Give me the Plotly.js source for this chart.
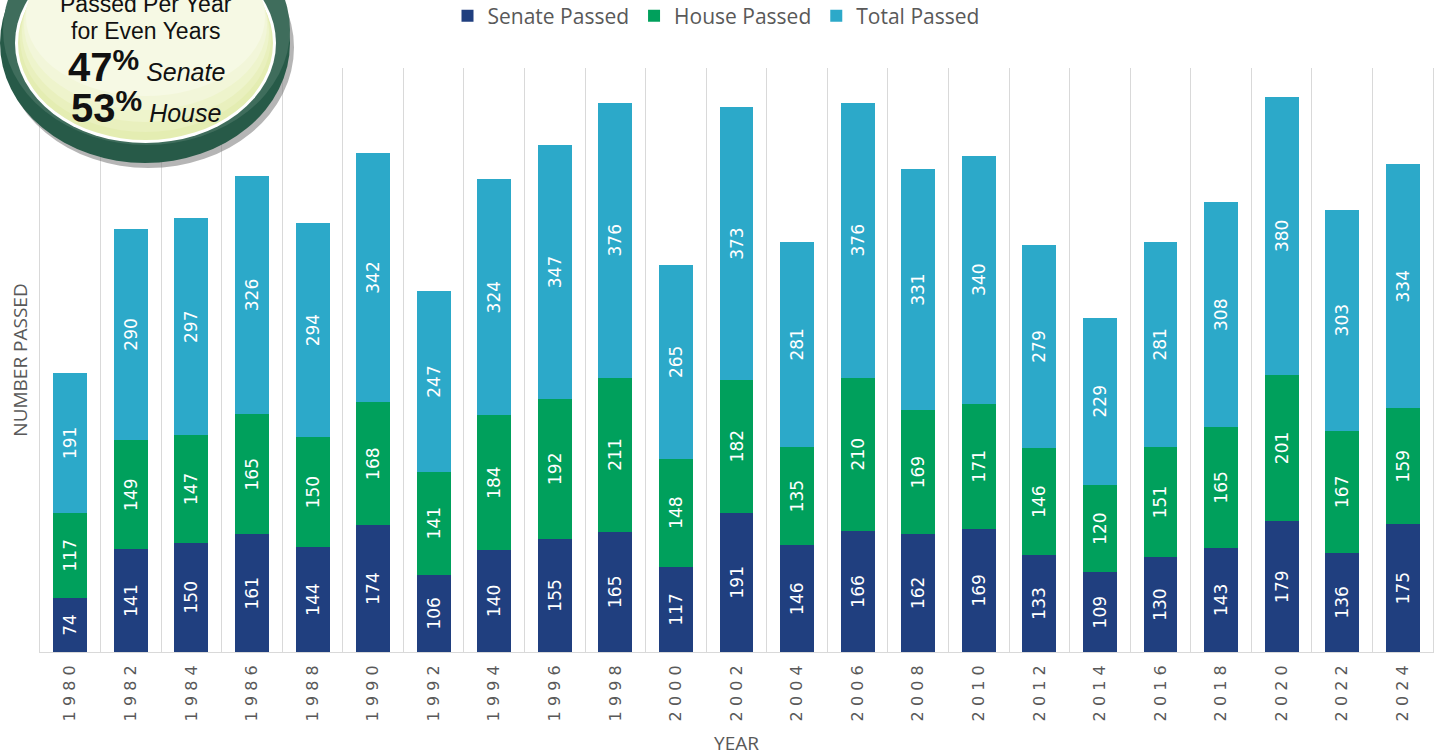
<!DOCTYPE html>
<html>
<head>
<meta charset="utf-8">
<script src="https://cdn.plot.ly/plotly-3.0.1.min.js"></script>
<style>
  html, body { margin: 0; padding: 0; background: #ffffff; }
  #chart { width: 1440px; height: 756px; }
</style>
</head>
<body>
<div id="chart"></div>
<script>
// ---- Data ----
var years = ["1980","1982","1984","1986","1988","1990","1992","1994","1996","1998","2000","2002",
             "2004","2006","2008","2010","2012","2014","2016","2018","2020","2022","2024"];
var senatePassed = [74,141,150,161,144,174,106,140,155,165,117,191,146,166,162,169,133,109,130,143,179,136,175];
var housePassed  = [117,149,147,165,150,168,141,184,192,211,148,182,135,210,169,171,146,120,151,165,201,167,159];
var totalPassed  = [191,290,297,326,294,342,247,324,347,376,265,373,281,376,331,340,279,229,281,308,380,303,334];
var seriesNames = ["Senate Passed", "House Passed", "Total Passed"];
var badgeLines = ["Passed Per Year", "for Even Years"];
var badgeShares = [{pct: "47", label: "Senate"}, {pct: "53", label: "House"}];

// ---- Style ----
var colors = ["#203f7f", "#00a05c", "#2ca9c9"];
var grey = "#595959";
var gridGrey = "#d9d9d9";
var W = 1440, H = 756;
var M = {l: 40, r: 7, t: 68, b: 104, autoexpand: false};
var plotW = W - M.l - M.r, plotH = H - M.t - M.b;
function xp(px) { return (px - M.l) / plotW; }
function yp(py) { return (H - M.b - py) / plotH; }

function barTrace(vals, i) {
  return {
    type: "bar",
    name: seriesNames[i],
    x: years,
    y: vals,
    marker: {color: colors[i], line: {width: 0}},
    text: vals.map(String),
    textposition: "inside",
    textangle: -90,
    insidetextanchor: "middle",
    insidetextfont: {family: "DejaVu Sans", size: 17, color: "#ffffff"},
    hoverinfo: "x+y+name"
  };
}

var data = [barTrace(senatePassed, 0), barTrace(housePassed, 1), barTrace(totalPassed, 2)];

// Badge shapes (decoration)
function ell(x0, x1, top, bottom, fill) {
  return {type: "circle", xref: "paper", yref: "paper",
          x0: xp(x0), x1: xp(x1), y0: yp(bottom), y1: yp(top),
          fillcolor: fill, line: {width: 0}, layer: "above"};
}
var shapes = [
  ell(3, 294, -73, 168, "rgba(120,120,120,0.55)"),
  ell(0, 290, -77, 163, "#275a48"),
  ell(3, 290, -85, 145, "#3f6d5c"),
  ell(15, 276, -57, 143, "#ffffff"),
  ell(18, 273, -54, 140, "#e4edb2"),
  ell(20, 271, -56, 132, "#e9f0be"),
  ell(22, 269, -58, 122, "#eef4cc"),
  ell(24, 267, -60, 110, "#f2f6d9"),
  ell(26, 265, -62, 96, "#f6f9e4")
];

var badgeFont = "Liberation Sans, Arial, sans-serif";
var cx = xp(146);
function shareText(s) {
  return "<b><span style='font-size:40px'>" + s.pct + "</span></b><sup><b><span style='font-size:30px'>%</span></b></sup> <i>" + s.label + "</i>";
}
var annotations = [
  {xref: "paper", yref: "paper", x: cx, y: yp(4), text: badgeLines[0], showarrow: false,
   xanchor: "center", yanchor: "middle", font: {family: badgeFont, size: 23, color: "#111111"}},
  {xref: "paper", yref: "paper", x: cx, y: yp(31), text: badgeLines[1], showarrow: false,
   xanchor: "center", yanchor: "middle", font: {family: badgeFont, size: 23, color: "#111111"}},
  {xref: "paper", yref: "paper", x: cx, y: yp(66), text: shareText(badgeShares[0]),
   showarrow: false, xanchor: "center", yanchor: "middle", font: {family: badgeFont, size: 25, color: "#111111"}},
  {xref: "paper", yref: "paper", x: cx, y: yp(107), text: shareText(badgeShares[1]),
   showarrow: false, xanchor: "center", yanchor: "middle", font: {family: badgeFont, size: 25, color: "#111111"}}
];

var layout = {
  width: W, height: H,
  margin: M,
  paper_bgcolor: "#ffffff", plot_bgcolor: "#ffffff",
  barmode: "stack",
  bargap: 0.44,
  showlegend: true,
  legend: {orientation: "h", xref: "paper", yref: "paper", x: xp(716), xanchor: "center",
           y: yp(16), yanchor: "middle", font: {family: "Open Sans", size: 21, color: grey},
           traceorder: "normal", itemclick: false, bgcolor: "rgba(0,0,0,0)"},
  xaxis: {
    type: "category",
    tickmode: "array", tickvals: years, ticktext: years.map(function (y) { return y.split("").join(" "); }),
    tickson: "boundaries",
    showgrid: true, gridcolor: gridGrey, gridwidth: 1,
    ticks: "", tickangle: -90,
    ticklabelstandoff: 6,
    tickfont: {family: "DejaVu Sans", size: 16, color: grey},
    showline: true, linecolor: gridGrey, linewidth: 1,
    zeroline: false,
    title: {text: "YEAR", font: {family: "Open Sans", size: 19, color: grey}, standoff: 16},
    automargin: false
  },
  yaxis: {
    range: [0, 800],
    showgrid: false, zeroline: false, showticklabels: false, ticks: "",
    showline: true, linecolor: gridGrey, mirror: true,
    title: {text: "NUMBER PASSED", font: {family: "Open Sans", size: 19, color: grey}, standoff: 6},
    automargin: false
  },
  shapes: shapes,
  annotations: annotations,
  font: {family: "Open Sans", color: grey}
};

Plotly.newPlot("chart", data, layout, {displayModeBar: false, staticPlot: true});
</script>
</body>
</html>
